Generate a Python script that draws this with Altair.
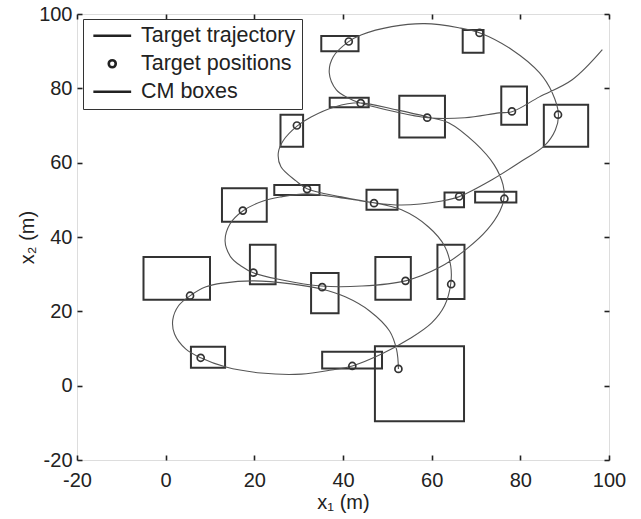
import altair as alt
import pandas as pd

# Target trajectory, sampled along the path (m)
traj_x = [52.5, 52.1, 50.5, 46.0, 40.5, 35.1, 28.3, 19.7, 12.9, 9.1,
          5.4, 2.9, 1.6, 2.0, 4.5, 7.9, 13.6, 21.5, 30.6, 37.4,
          42.1, 48.7, 55.0, 60.0, 62.9, 64.3, 64.3, 62.9, 59.3, 53.2,
          46.9, 39.6, 31.9, 26.0, 22.0, 17.4, 14.5, 13.4, 14.7, 17.0,
          19.9, 26.0, 35.1, 44.2, 54.1, 61.9, 67.9, 72.5, 75.4, 76.3,
          76.1, 74.1, 69.8, 63.9, 59.1, 52.1, 43.7, 38.1, 32.8, 29.7,
          26.5, 25.4, 26.0, 29.4, 31.9, 39.6, 47.1, 53.2, 62.3, 66.1,
          73.6, 80.4, 85.4, 87.9, 88.6, 87.2, 84.3, 78.1, 70.9, 66.1,
          58.4, 51.0, 44.2, 41.2, 37.8, 36.9, 38.5, 41.2, 43.7, 51.0,
          59.1, 67.5, 75.2, 78.1, 84.3, 91.7, 98.5]
traj_y = [4.5, 9.6, 14.7, 20.1, 23.9, 26.0, 27.4, 28.2, 27.6, 26.6,
          24.1, 21.5, 17.7, 13.9, 9.9, 7.5, 5.0, 3.4, 3.1, 4.2,
          5.3, 8.5, 12.6, 16.9, 21.5, 27.4, 32.2, 37.6, 42.7, 47.3,
          49.2, 50.5, 51.6, 50.8, 49.7, 47.0, 43.5, 38.9, 34.6, 32.2,
          30.3, 28.5, 26.8, 26.8, 28.2, 31.9, 36.8, 41.9, 47.0, 50.3,
          54.0, 59.4, 65.3, 70.7, 72.3, 74.2, 76.1, 75.0, 72.3, 69.9,
          65.9, 62.6, 58.9, 55.1, 53.0, 50.8, 49.2, 48.6, 49.7, 50.8,
          55.4, 60.5, 64.5, 68.8, 72.9, 78.8, 84.2, 90.4, 94.9, 96.3,
          97.4, 96.6, 94.4, 92.5, 88.5, 84.2, 79.6, 77.4, 76.1, 73.9,
          72.1, 72.1, 73.4, 73.7, 77.7, 82.3, 90.4]

# Target positions (m)
pos_x = [7.9, 42.1, 52.5, 5.5, 19.8, 35.3, 54.1, 64.4, 17.4, 31.9,
         47.0, 66.2, 76.4, 29.6, 44.0, 59.0, 78.1, 88.5, 41.3, 70.8]
pos_y = [7.5, 5.3, 4.5, 24.2, 30.4, 26.5, 28.2, 27.3, 47.1, 52.9,
         49.1, 50.9, 50.3, 70.0, 76.0, 72.1, 73.8, 72.9, 92.6, 94.9]

# CM boxes, one per target position (m)
box_x1 = [5.7, 35.3, 47.2, -5.0, 19.0, 32.8, 47.3, 61.3, 12.7, 24.5,
          45.3, 62.9, 69.8, 25.9, 37.0, 52.7, 75.7, 85.3, 35.1, 67.0]
box_x2 = [13.4, 48.8, 67.3, 10.0, 24.8, 39.0, 55.3, 67.4, 22.8, 34.7,
          52.3, 67.3, 79.1, 31.0, 45.8, 63.0, 81.5, 95.3, 43.5, 71.7]
box_y1 = [4.8, 4.6, -9.6, 23.1, 27.3, 19.5, 23.1, 23.3, 44.1, 51.3,
          47.3, 48.0, 49.3, 64.3, 74.9, 66.8, 70.2, 64.3, 90.0, 89.6]
box_y2 = [10.5, 9.1, 10.6, 34.6, 37.9, 30.3, 34.6, 37.9, 53.1, 54.0,
          52.7, 52.0, 52.2, 72.9, 77.5, 78.0, 80.5, 75.6, 94.1, 95.7]

TICKS = [-20, 0, 20, 40, 60, 80, 100]
KINDS = ["Target trajectory", "Target positions", "CM boxes"]
LINE_SYMBOL = "M-5.4,0H5.4"

FONT = "Liberation Sans"
INK = "#222222"

traj = pd.DataFrame({"x": traj_x, "y": traj_y, "i": range(len(traj_x))})
pos = pd.DataFrame({"x": pos_x, "y": pos_y, "kind": "Target positions"})
boxes = pd.DataFrame({"x1": box_x1, "x2": box_x2, "y1": box_y1, "y2": box_y2})

xs = alt.Scale(domain=[-20, 100], nice=False, zero=False)
ys = alt.Scale(domain=[-20, 100], nice=False, zero=False)

# inward ticks: each axis is pulled 5px inside the frame
tick_style = dict(values=TICKS, offset=-5, tickSize=5, tickWidth=1.6,
                  tickColor=INK, domain=False, grid=False)
label_style = dict(labelFontSize=20, labelColor=INK, labelFont=FONT,
                   labelFlush=False, labelExpr="'' + datum.value",
                   titleFontSize=20, titleFontWeight="normal",
                   titleColor=INK, titleFont=FONT)

x_bottom = alt.Axis(orient="bottom", labelPadding=10, title="x₁ (m)",
                    titlePadding=2, **label_style, **tick_style)
y_left = alt.Axis(orient="left", labelPadding=5, title="x₂ (m)",
                  titlePadding=1, **label_style, **tick_style)
x_top = alt.Axis(orient="top", labels=False, title=None, **tick_style)
y_right = alt.Axis(orient="right", labels=False, title=None, **tick_style)

box_layer = alt.Chart(boxes).mark_rect(
    fill=None, fillOpacity=0, stroke="#333333", strokeWidth=2
).encode(
    x=alt.X("x1:Q", scale=xs, axis=None),
    x2="x2:Q",
    y=alt.Y("y1:Q", scale=ys, axis=None),
    y2="y2:Q",
)

line_layer = alt.Chart(traj).mark_line(
    color="#555555", strokeWidth=1.1, interpolate="catmull-rom"
).encode(
    x=alt.X("x:Q", scale=xs, axis=x_bottom),
    y=alt.Y("y:Q", scale=ys, axis=y_left),
    order=alt.Order("i:Q"),
)

point_layer = alt.Chart(pos).mark_point(
    filled=False, color="#333333", size=49, strokeWidth=1.7, opacity=1
).encode(
    x=alt.X("x:Q", scale=xs, axis=x_top),
    y=alt.Y("y:Q", scale=ys, axis=y_right),
    shape=alt.Shape(
        "kind:N",
        scale=alt.Scale(domain=KINDS, range=[LINE_SYMBOL, "circle", LINE_SYMBOL]),
        legend=alt.Legend(
            title=None, orient="none", legendX=6, legendY=5, padding=6,
            strokeColor="#333333", fillColor="white",
            labelFontSize=21.5, labelFont=FONT, labelColor=INK, labelLimit=0,
            symbolSize=49, symbolStrokeWidth=2.6, symbolStrokeColor="#222222",
            symbolOffset=12.5, labelOffset=18, rowPadding=5,
        ),
    ),
)

chart = alt.layer(box_layer, line_layer, point_layer).resolve_axis(
    x="independent", y="independent"
).properties(
    width=532, height=446,
    autosize=alt.AutoSizeParams(type="none"),
    padding={"left": 77, "top": 14, "right": 32, "bottom": 59},
).configure_view(
    stroke="#333333", strokeWidth=1
).configure(font=FONT)

chart.save("out.html", embed_options={"renderer": "svg", "actions": False})
